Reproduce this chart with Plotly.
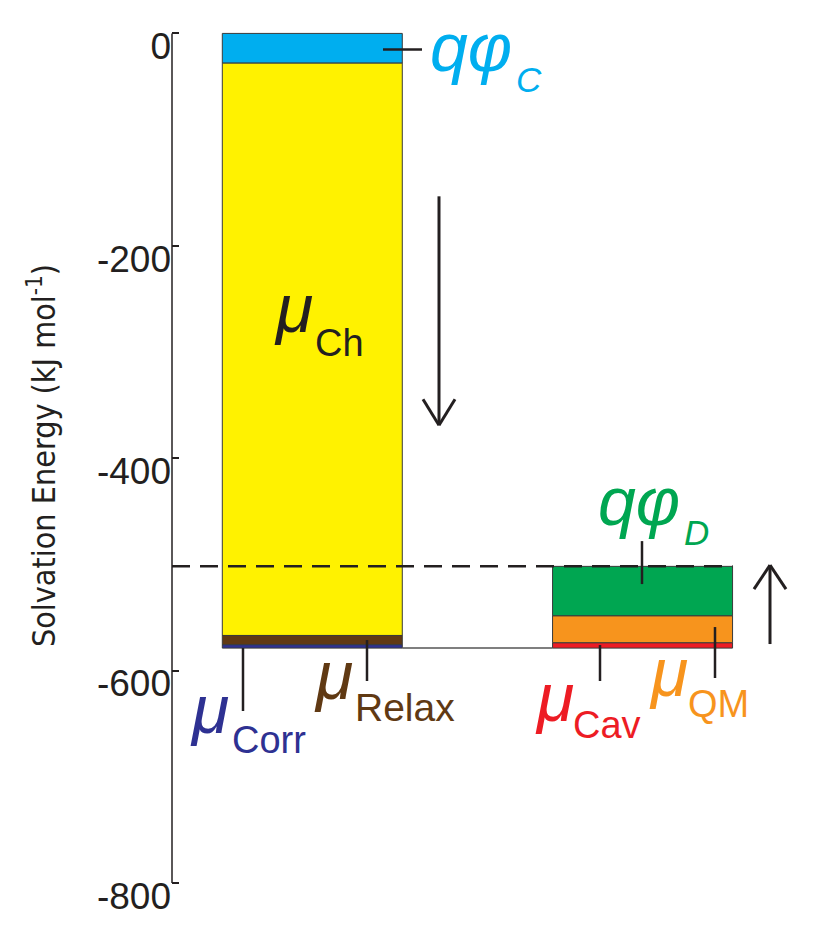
import plotly.graph_objects as go

# ---------------- data ----------------
categories = ["Charged", "Decoupled"]

left_names = ["qφ_C", "μ_Ch", "μ_Relax", "μ_Corr"]          # stacked downward from 0
left_values = [-28.0, -539.0, -8.7, -3.2]
left_colors = ["#00AEEF", "#FFF200", "#603913", "#2E3192"]

right_names = ["μ_Cav", "μ_QM", "qφ_D"]                      # stacked upward from the total
right_values = [5.1, 25.4, 46.5]
right_colors = ["#ED1C24", "#F7941D", "#00A651"]

tick_values = [0, -200, -400, -600, -800]
tick_labels = ["0", "-200", "-400", "-600", "-800"]
axis_span = [-800, 0]

# ---------------- layout geometry ----------------
OFF = 8                      # page body margin
W, H = 822, 931
PX_PER_UNIT = 1.0625
Y_RANGE = [-818, 23]
PLOT_TOP_SCREEN = 33 - Y_RANGE[1] * PX_PER_UNIT
PLOT_H = (Y_RANGE[1] - Y_RANGE[0]) * PX_PER_UNIT
MT = PLOT_TOP_SCREEN - OFF
MB = H - MT - PLOT_H
ML, MR = 164, 20
PLOT_W = W - ML - MR
BAR_W = 0.545
X_RANGE = [-0.4248, 1.507]
INK = "#231F20"
FONT = "Liberation Sans, Arial, Helvetica, sans-serif"


def px(x):
    return (x - OFF - ML) / PLOT_W


def py(y):
    return (MT + PLOT_H - (y - OFF)) / PLOT_H


fig = go.Figure()

# left bar: cumulative stacking downward from zero
base = 0.0
for name, v, c in zip(left_names, left_values, left_colors):
    fig.add_trace(go.Bar(x=[0], y=[v], base=[base], width=[BAR_W], name=name,
                         marker=dict(color=c, line=dict(color="#3a3a3a", width=1))))
    base += v
total = base

# right bar: stacking upward from the total level
base = total
for name, v, c in zip(right_names, right_values, right_colors):
    fig.add_trace(go.Bar(x=[1], y=[v], base=[base], width=[BAR_W], name=name,
                         marker=dict(color=c, line=dict(color="#3a3a3a", width=1))))
    base += v
right_top = base

shapes = []
# y axis line (only over the labelled span)
shapes.append(dict(type="line", xref="paper", yref="y", x0=0, x1=0,
                   y0=axis_span[0], y1=axis_span[1], line=dict(color=INK, width=1.5)))
# baseline connector between the two bars
shapes.append(dict(type="line", xref="x", yref="y", x0=0 + BAR_W / 2, x1=1 - BAR_W / 2,
                   y0=total, y1=total, line=dict(color="#555555", width=1.5)))
# dashed reference line at the top of the right bar
shapes.append(dict(type="line", xref="x", yref="y", x0=X_RANGE[0], x1=1 + BAR_W / 2,
                   y0=right_top, y1=right_top, layer="above",
                   line=dict(color=INK, width=2.5, dash="18px,10px")))


def seg(x0, y0, x1, y1, w=2.5):
    shapes.append(dict(type="line", xref="paper", yref="paper", x0=px(x0), y0=py(y0),
                       x1=px(x1), y1=py(y1), layer="above", line=dict(color=INK, width=w)))


# leader lines
seg(383, 49, 422, 49)
seg(243, 648, 243, 711)
seg(367, 640, 367, 681)
seg(642, 541, 642, 584)
seg(600, 645, 600, 681)
seg(715, 627, 715, 678)

# arrows
seg(439, 196, 439, 425, 3)
seg(423, 399, 439, 425, 3)
seg(455, 399, 439, 425, 3)
seg(770, 644, 770, 565, 3)
seg(754, 589, 770, 565, 3)
seg(786, 589, 770, 565, 3)

annotations = []


def label(xl, yb, text, size, color, italic=False):
    annotations.append(dict(xref="paper", yref="paper", x=px(xl), y=py(yb - 0.33 * size),
                            xanchor="left", yanchor="middle", showarrow=False, text=text,
                            font=dict(family=FONT, size=size, color=color,
                                      style="italic" if italic else "normal")))


BIG, SUB = 68, 38
# qφC
label(428, 69, "qφ", BIG, "#00AEEF", True)
label(514, 91, "C", 35, "#00AEEF", True)
# μCh
label(272, 330, "μ", BIG, INK, True)
label(313, 355, "Ch", SUB, INK)
# μCorr
label(188, 731, "μ", BIG, "#2E3192", True)
label(230, 753, "Corr", SUB, "#2E3192")
# μRelax
label(312, 697, "μ", BIG, "#603913", True)
label(353, 720, "Relax", 39, "#603913")
# qφD
label(596, 523, "qφ", BIG, "#00A651", True)
label(682, 544, "D", 35, "#00A651", True)
# μCav
label(533, 719, "μ", BIG, "#ED1C24", True)
label(571, 738, "Cav", SUB, "#ED1C24")
# μQM
label(647, 694, "μ", BIG, "#F7941D", True)
label(686, 717, "QM", SUB, "#F7941D")

fig.update_layout(
    width=W, height=H,
    margin=dict(l=ML, r=MR, t=MT, b=MB, pad=0),
    paper_bgcolor="white", plot_bgcolor="white",
    showlegend=False, barmode="overlay",
    shapes=shapes, annotations=annotations,
    xaxis=dict(range=X_RANGE, visible=False, fixedrange=True),
    yaxis=dict(range=Y_RANGE, tickvals=tick_values, ticktext=tick_labels,
               showgrid=False, zeroline=False, showline=False,
               ticks="inside", ticklen=7, tickwidth=1.5, tickcolor=INK,
               ticklabelshift=13, ticklabelstandoff=0,
               tickfont=dict(family=FONT, size=37, color=INK),
               title=dict(text="Solvation Energy (kJ mol<sup>-1</sup>)", standoff=31,
                          font=dict(family="Liberation Sans Narrow, DejaVu Sans Condensed, Arial Narrow, sans-serif",
                                    size=32, color=INK)),
               automargin=False),
)

fig.write_html("out.html")
